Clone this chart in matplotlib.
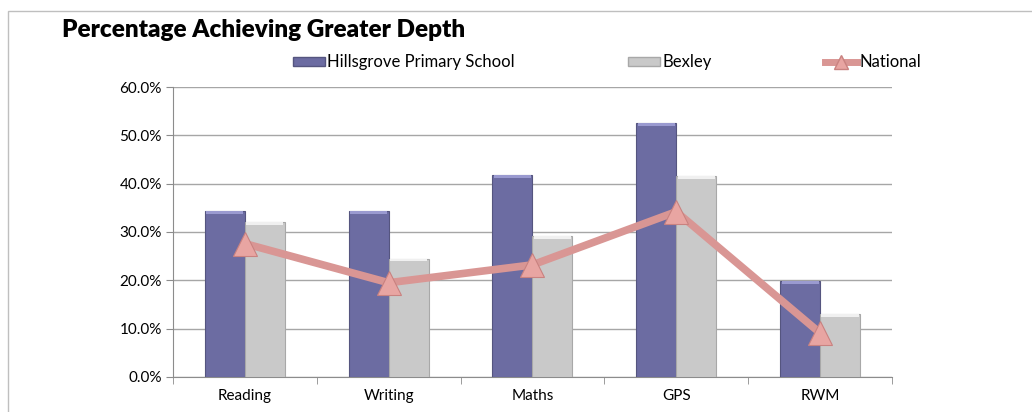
import numpy as np
import matplotlib.pyplot as plt
from matplotlib.patches import Rectangle
from matplotlib.lines import Line2D
from matplotlib.ticker import FuncFormatter, MultipleLocator

plt.rcParams["font.family"] = ["Lato", "DejaVu Sans"]

categories = ["Reading", "Writing", "Maths", "GPS", "RWM"]
school = [34.3, 34.3, 41.7, 52.6, 19.8]
bexley = [32.1, 24.5, 29.1, 41.5, 13.1]
national = [27.6, 19.5, 23.2, 34.2, 9.1]

purple = "#6c6ca2"
grey = "#c9c9c9"
pink = "#d99694"

fig = plt.figure(figsize=(10.32, 4.12), dpi=100)
ax = fig.add_axes([0.1676, 0.085, 0.6967, 0.7038])

x = np.arange(len(categories))
w = 0.278
b1 = ax.bar(x - w / 2, school, w, color=purple, edgecolor="#55557f", linewidth=0.8, zorder=3)
b2 = ax.bar(x + w / 2, bexley, w, color=grey, edgecolor="#a8a8a8", linewidth=0.8, zorder=3)

# light bevel strip on top of each bar
for bars, top_col in [(b1, "#9a9ad0"), (b2, "#f0f0f0")]:
    for r in bars:
        ax.add_patch(Rectangle((r.get_x() + 0.01, r.get_height() - 0.6), r.get_width() - 0.02, 0.6,
                               color=top_col, zorder=4, linewidth=0))

ax.plot(x, national, color=pink, lw=5.5, marker="^", markersize=17,
        markerfacecolor="#e8a5a2", markeredgecolor="#c98280", markeredgewidth=0.8,
        solid_capstyle="round", zorder=5)

ax.set_xlim(-0.5, len(categories) - 0.5)
ax.set_ylim(0, 60)
ax.yaxis.set_major_locator(MultipleLocator(10))
ax.yaxis.set_major_formatter(FuncFormatter(lambda v, p: f"{v:.1f}%"))
ax.grid(axis="y", color="#a6a6a6", lw=1, zorder=0)
ax.set_axisbelow(True)

ax.set_xticks(x)
ax.set_xticklabels(categories, fontsize=11)
ax.set_xticks(np.arange(-0.5, len(categories)), minor=True)
ax.tick_params(axis="x", which="major", length=0, pad=9)
ax.tick_params(axis="x", which="minor", length=5, color="#8c8c8c", direction="out")
ax.tick_params(axis="y", length=5, color="#8c8c8c", labelsize=11, pad=3)

for s in ["top", "right"]:
    ax.spines[s].set_visible(False)
for s in ["left", "bottom"]:
    ax.spines[s].set_color("#8c8c8c")

handles = [
    Rectangle((0, 0), 1, 1, facecolor=purple, edgecolor="#55557f"),
    Rectangle((0, 0), 1, 1, facecolor=grey, edgecolor="#a8a8a8"),
    Line2D([], [], color=pink, lw=5, marker="^", markersize=10,
           markerfacecolor="#e8a5a2", markeredgecolor="#c98280"),
]
fig.legend(handles, ["Hillsgrove Primary School", "Bexley", "National"],
           loc="center left", bbox_to_anchor=(0.284, 0.849), ncol=3, frameon=False,
           fontsize=12, handlelength=1.9, handleheight=0.45, handletextpad=0.15,
           columnspacing=6.8, borderaxespad=0, borderpad=0)

fig.text(0.06, 0.927, "Percentage Achieving Greater Depth", fontsize=17.5,
         fontweight="heavy", ha="left", va="center")

fig.add_artist(Rectangle((8 / 1032, -0.01), 1.0, 1 - 11 / 412 + 0.01, transform=fig.transFigure,
                         fill=False, edgecolor="#bfbfbf", lw=1))

fig.savefig("out.png", dpi=100)
